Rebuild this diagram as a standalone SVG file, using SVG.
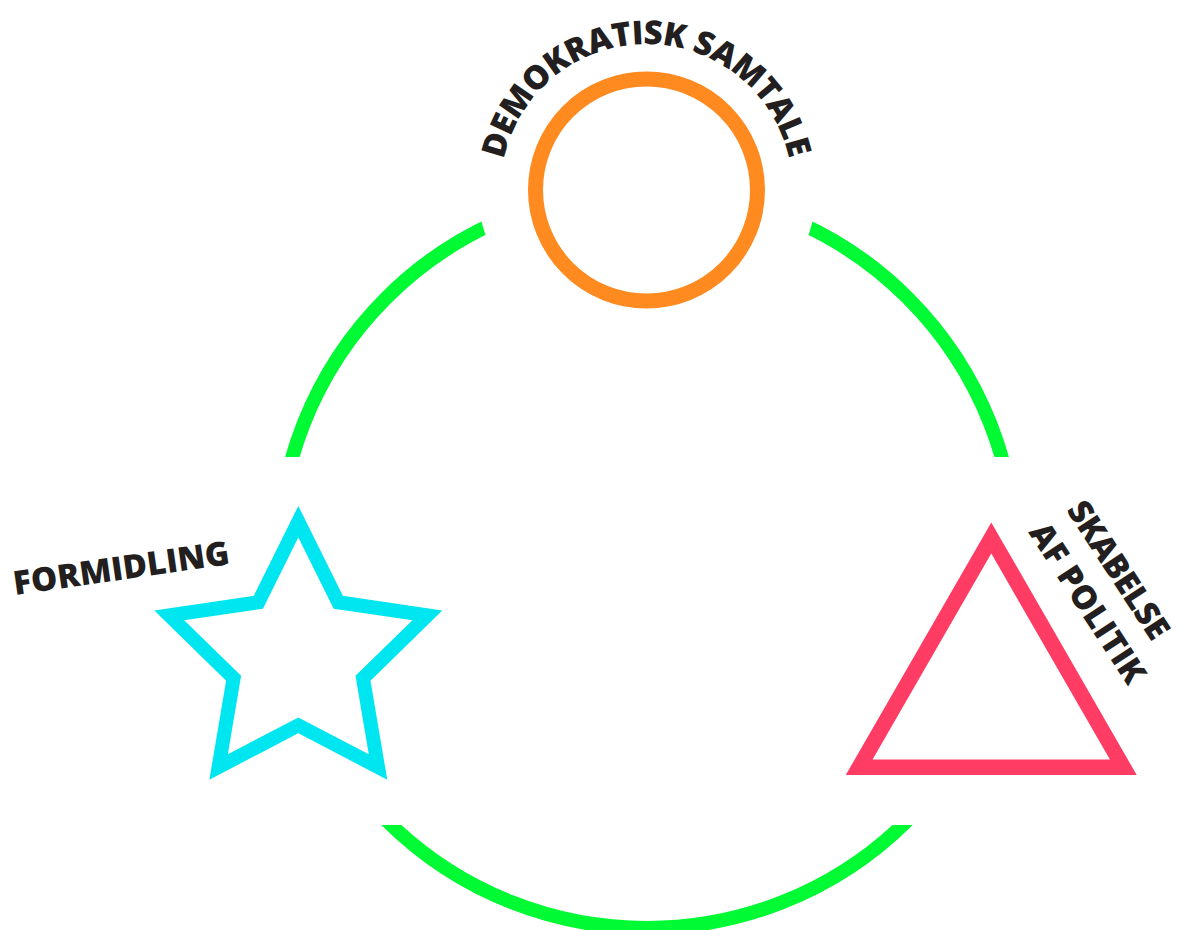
<svg xmlns="http://www.w3.org/2000/svg" width="1180" height="930" viewBox="0 0 1180 930">
  <style>
    .lbl { font-family: "Open Sans", Lato, "Liberation Sans", sans-serif; font-weight: 800; font-size: 33px; fill: #231f20; }
    .shape { fill: none; stroke-linejoin: miter; stroke-miterlimit: 10; }
  </style>
  <defs>
    <clipPath id="ringClip">
      <polygon points="0,0 415,0 552,457 0,457"/>
      <polygon points="879,0 1180,0 1180,457 742,457"/>
      <rect x="0" y="825" width="1180" height="105"/>
    </clipPath>
    <path id="arcText" d="M 503.7 159.6 A 146 146 0 0 1 789 158.4"/>
  </defs>
  <rect width="1180" height="930" fill="#ffffff"/>
  <g id="connectors">
    <circle cx="647" cy="559" r="369" fill="none" stroke="#00fa34" stroke-width="14" clip-path="url(#ringClip)"/>
  </g>
  <g id="node-samtale">
    <circle class="shape" cx="646.5" cy="190" r="111" stroke="#ff8a1f" stroke-width="15"/>
    <text class="lbl"><textPath href="#arcText" textLength="396" lengthAdjust="spacing">DEMOKRATISK SAMTALE</textPath></text>
  </g>
  <g id="node-formidling">
    <polygon class="shape" stroke="#00e6f0" stroke-width="14" points="298.3,521.7 338.3,602.3 427.3,615.4 363,678.3 378,767 298.3,725.3 218.6,767 233.6,678.3 169.3,615.4 258.3,602.3"/>
    <text class="lbl" transform="translate(15,595) rotate(-8.2)" textLength="218" lengthAdjust="spacing">FORMIDLING</text>
  </g>
  <g id="node-politik">
    <polygon class="shape" stroke="#ff3c64" stroke-width="15.5" points="991.3,538 1123.3,767.2 859.2,767.2"/>
    <g transform="translate(1066,510) rotate(57)">
      <text class="lbl" x="0" y="0" textLength="158" lengthAdjust="spacing">SKABELSE</text>
      <text class="lbl" x="-2" y="44" textLength="184" lengthAdjust="spacing">AF POLITIK</text>
    </g>
  </g>
</svg>
